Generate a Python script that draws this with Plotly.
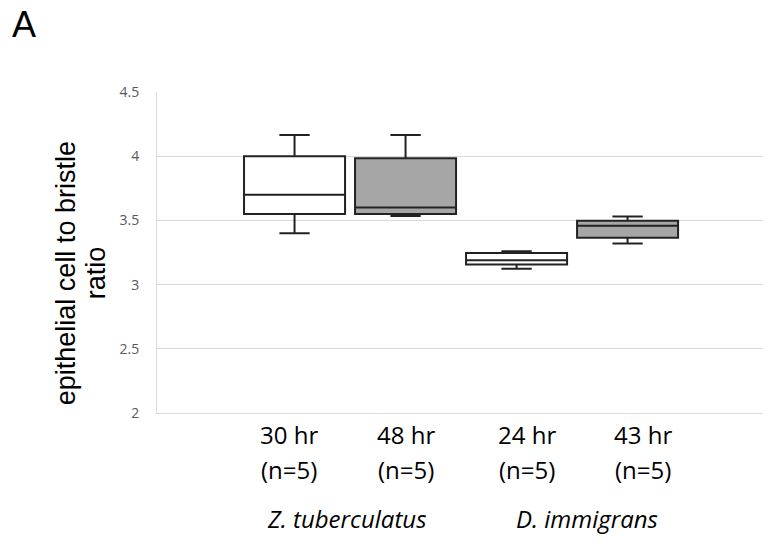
import plotly.graph_objects as go

# ---- data ----
time_labels = ["30 hr", "48 hr", "24 hr", "43 hr"]
n_labels = ["(n=5)", "(n=5)", "(n=5)", "(n=5)"]
species = ["Z. tuberculatus", "D. immigrans"]
positions = [1, 2, 3, 4]
lower_whisker = [3.40, 3.535, 3.123, 3.32]
q1_vals = [3.55, 3.55, 3.157, 3.364]
median_vals = [3.70, 3.60, 3.19, 3.458]
q3_vals = [4.00, 3.985, 3.246, 3.497]
upper_whisker = [4.165, 4.165, 3.26, 3.53]
y_ticks = [2, 2.5, 3, 3.5, 4, 4.5]
y_tick_text = ["2", "2.5", "3", "3.5", "4", "4.5"]

fills = ["#ffffff", "#a6a6a6", "#ffffff", "#a6a6a6"]

fig = go.Figure()
for i in range(len(positions)):
    fig.add_trace(go.Box(
        x=[positions[i]],
        q1=[q1_vals[i]], median=[median_vals[i]], q3=[q3_vals[i]],
        lowerfence=[lower_whisker[i]], upperfence=[upper_whisker[i]],
        fillcolor=fills[i],
        line=dict(color="#222222", width=2),
        width=0.91, whiskerwidth=0.3,
        boxpoints=False, showlegend=False, hoverinfo="skip",
    ))

# plot area pixel geometry
L, R, T, B = 157, 0, 92, 126.5
W, H = 763, 540
ph = H - T - B

def ypap(px):
    return (H - B - px) / ph

annotations = []
label_shift = [-6, 0, 10, 15]
for i, p in enumerate(positions):
    annotations.append(dict(x=p, y=ypap(435), xref="x", yref="paper", text=time_labels[i],
                            showarrow=False, xshift=label_shift[i], yanchor="middle",
                            font=dict(family="Open Sans", size=24, color="#000000")))
    annotations.append(dict(x=p, y=ypap(470), xref="x", yref="paper", text=n_labels[i],
                            showarrow=False, xshift=label_shift[i], yanchor="middle",
                            font=dict(family="Open Sans", size=24, color="#000000")))
species_x = [1.47, 3.63]
for s, sx in zip(species, species_x):
    annotations.append(dict(x=sx, y=ypap(519), xref="x", yref="paper", text="<i>" + s + "</i>",
                            showarrow=False, yanchor="middle",
                            font=dict(family="Open Sans", size=24, color="#000000")))

# y axis title as two rotated lines
pw = W - L - R
def xpap(px):
    return (px - L) / pw
annotations.append(dict(x=xpap(66), y=ypap(273.5), xref="paper", yref="paper",
                        text="epithelial cell to bristle", textangle=-90, showarrow=False,
                        xanchor="center", yanchor="middle",
                        font=dict(family="Liberation Sans", size=27, color="#000000")))
annotations.append(dict(x=xpap(96), y=ypap(273.5), xref="paper", yref="paper",
                        text="ratio", textangle=-90, showarrow=False,
                        xanchor="center", yanchor="middle",
                        font=dict(family="Liberation Sans", size=27, color="#000000")))
# panel letter
annotations.append(dict(x=xpap(10), y=ypap(24), xref="paper", yref="paper",
                        text="A", showarrow=False, xanchor="left", yanchor="middle",
                        font=dict(family="Liberation Sans", size=36, color="#000000")))

fig.update_layout(
    width=W, height=H,
    margin=dict(l=L, r=R, t=T, b=B),
    paper_bgcolor="white", plot_bgcolor="white",
    boxmode="overlay",
    annotations=annotations,
    xaxis=dict(range=[-0.239, 5.22], showticklabels=False, showgrid=False, zeroline=False,
               showline=True, linecolor="#d9d9d9", linewidth=1, ticks=""),
    yaxis=dict(range=[2, 4.5], tickvals=y_ticks, ticktext=y_tick_text,
               showgrid=True, gridcolor="#d9d9d9", gridwidth=1, zeroline=False,
               showline=True, linecolor="#d9d9d9", linewidth=1, ticks="",
               ticklabelstandoff=14,
               tickfont=dict(family="Open Sans", size=14, color="#595959")),
)

fig.write_html("out.html", config={"displayModeBar": False},
               post_script="document.body.style.margin='0';document.body.style.padding='0';")
